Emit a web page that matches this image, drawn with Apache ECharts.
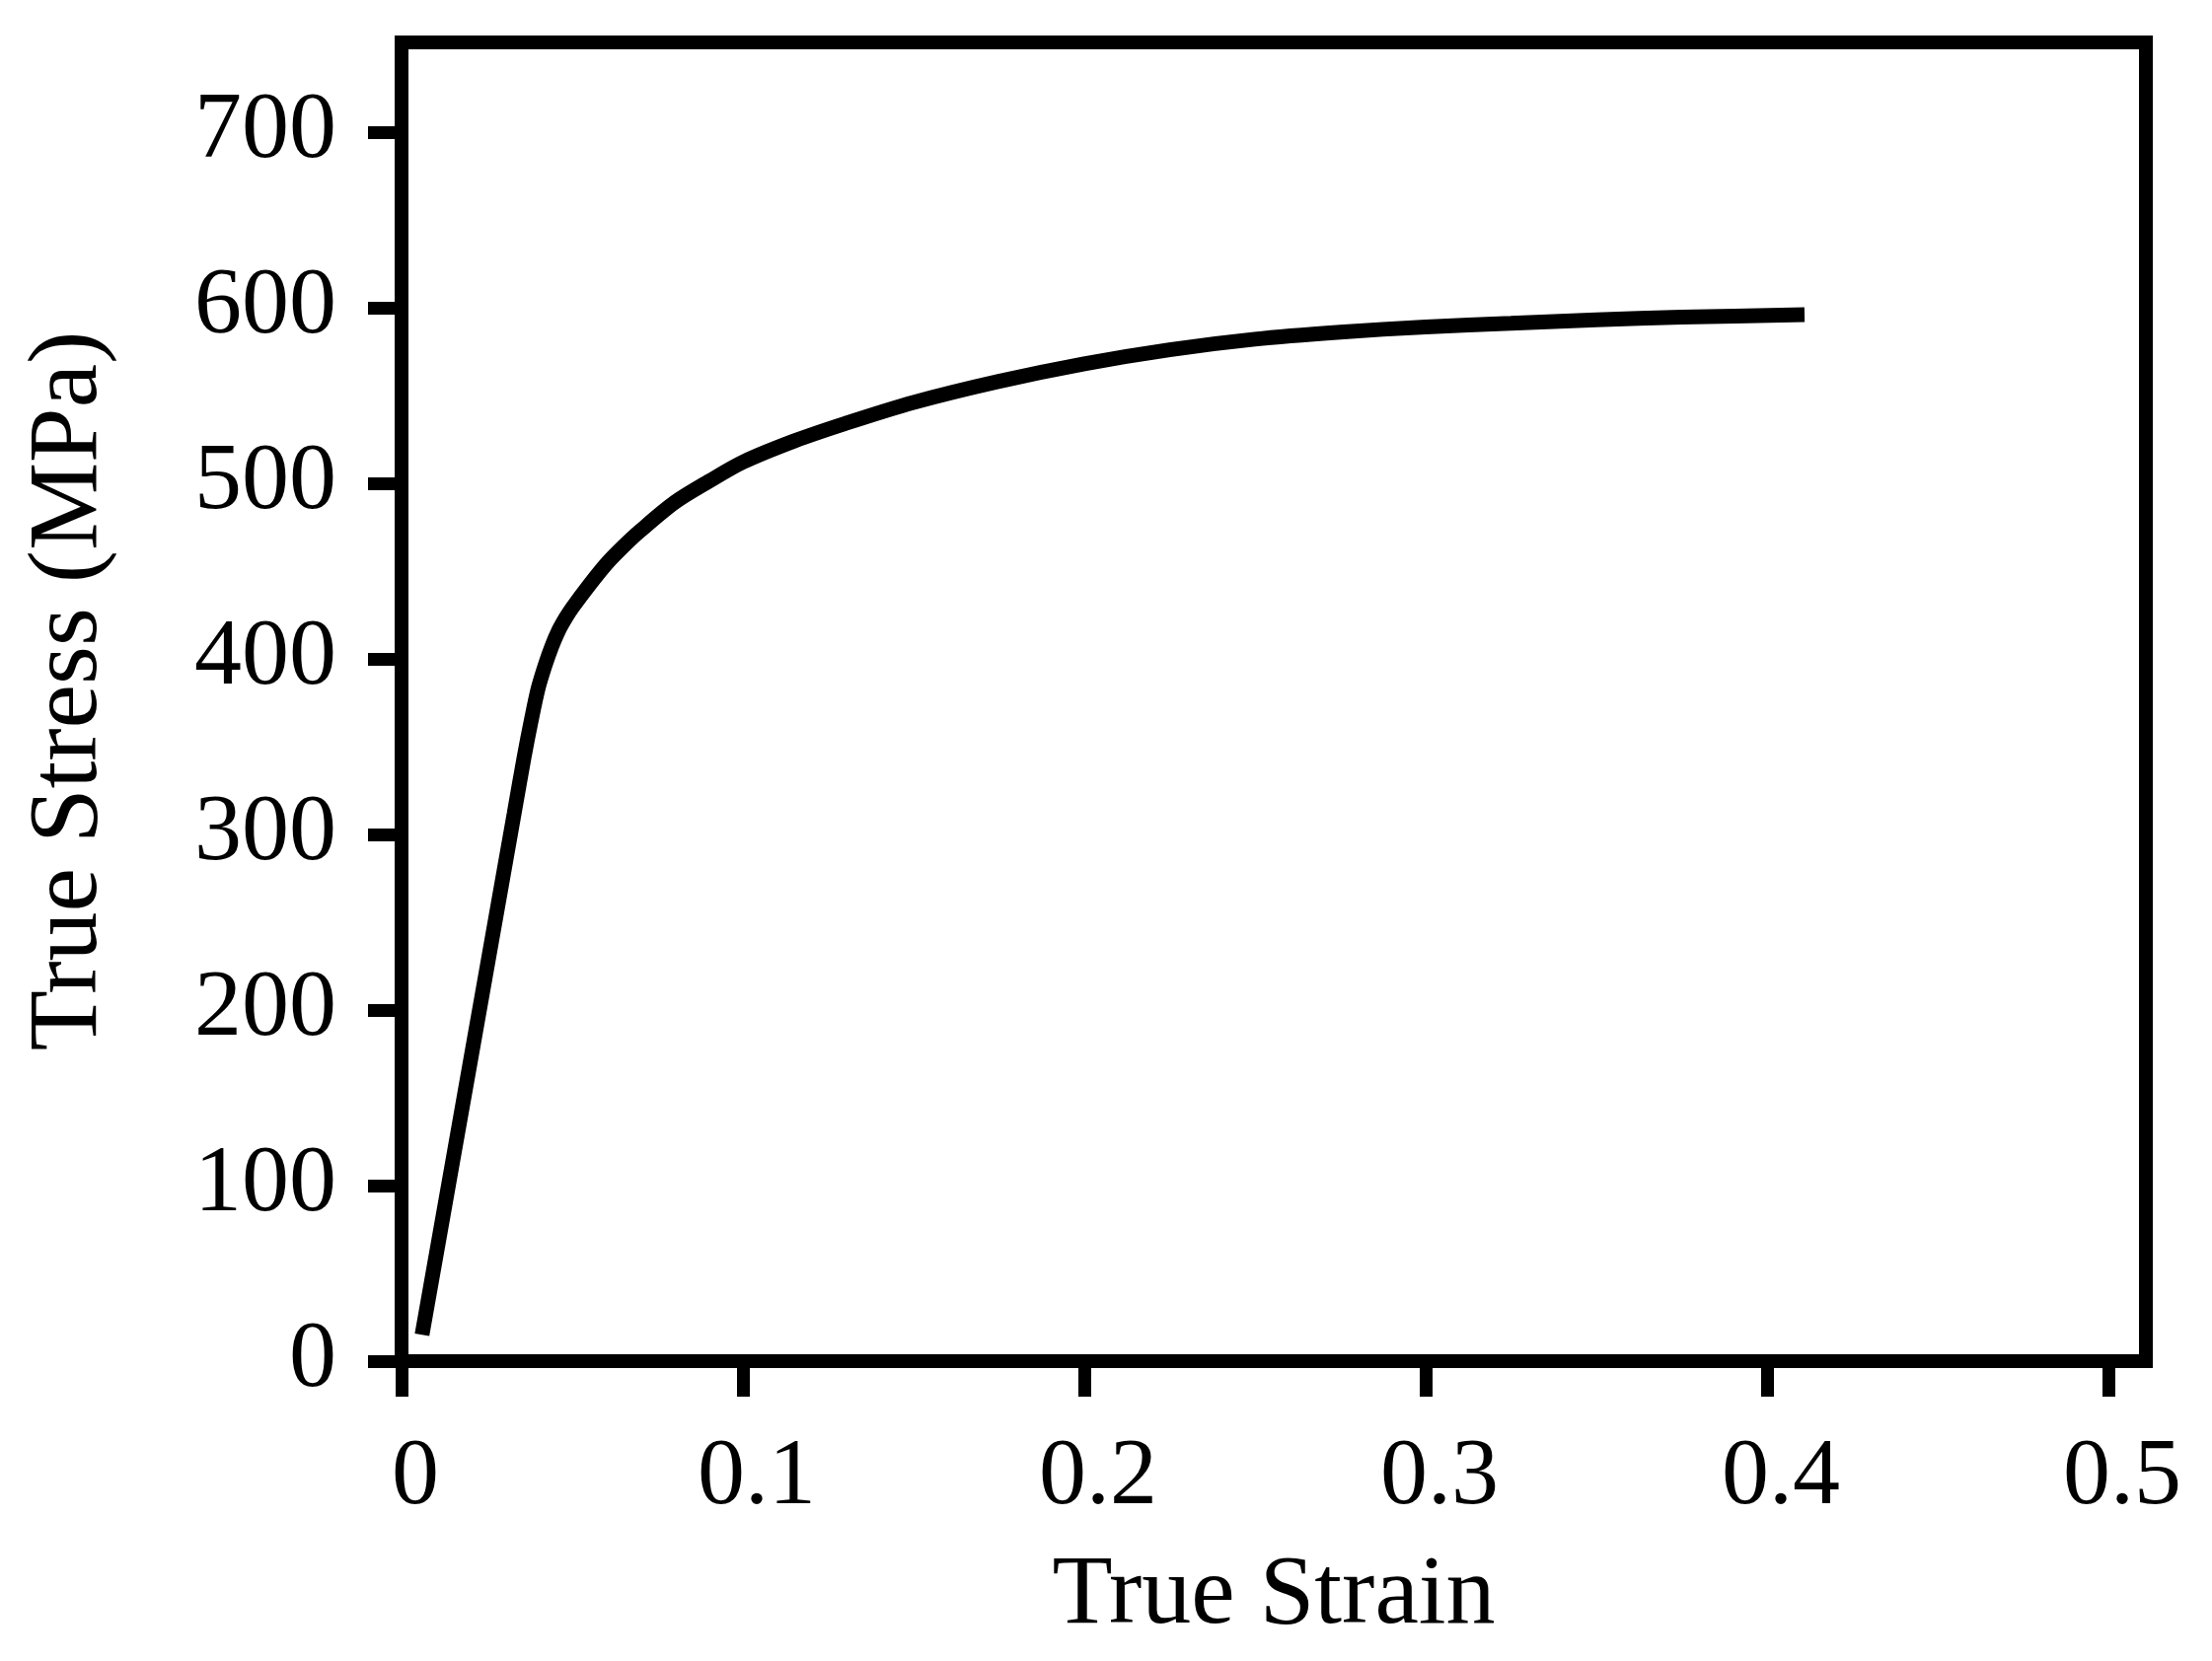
<!DOCTYPE html>
<html>
<head>
<meta charset="utf-8">
<script src="https://cdn.jsdelivr.net/npm/echarts@6/dist/echarts.min.js"></script>
<style>
html,body{margin:0;padding:0;background:#fff;}
#chart{width:2242px;height:1684px;}
</style>
</head>
<body>
<div id="chart"></div>
<script>
// Data
const strain = [0.006, 0.015, 0.025, 0.033, 0.036, 0.038, 0.040, 0.042, 0.044, 0.046, 0.048, 0.050, 0.055, 0.060, 0.065, 0.070, 0.080, 0.090, 0.100, 0.115, 0.130, 0.150, 0.175, 0.200, 0.225, 0.250, 0.275, 0.300, 0.325, 0.350, 0.375, 0.411];
const stress = [15, 114, 224, 312, 345, 365, 383, 396, 407, 416, 423, 429, 442, 454, 464, 473, 489, 501, 512, 524, 534, 546, 558, 568, 576, 582, 586, 589, 591, 593, 594.5, 596];
const xTicks = [0, 0.1, 0.2, 0.3, 0.4, 0.5];
const yTicks = [0, 100, 200, 300, 400, 500, 600, 700];
const xName = 'True Strain';
const yName = 'True Stress (MPa)';

const pts = strain.map((x, i) => [x, stress[i]]);
const font = 'Liberation Serif';

const chart = echarts.init(document.getElementById('chart'), null, {renderer: 'canvas'});
chart.setOption({
  animation: false,
  backgroundColor: '#fff',
  grid: {
    left: 407, right: 67, top: 43, bottom: 304,
    show: true, borderColor: '#000', borderWidth: 14, backgroundColor: 'transparent'
  },
  xAxis: {
    type: 'value', min: 0, max: 0.511,
    name: xName, nameLocation: 'middle', nameGap: 189,
    nameTextStyle: {fontFamily: font, fontSize: 100, color: '#000'},
    axisLine: {show: true, onZero: false, lineStyle: {color: '#000', width: 14}},
    axisTick: {show: true, length: 36, customValues: xTicks, lineStyle: {color: '#000', width: 13}},
    axisLabel: {customValues: xTicks, margin: 71, fontFamily: font, fontSize: 96, color: '#000',
      padding: [0, 0, 0, 28], formatter: v => String(v)},
    splitLine: {show: false}
  },
  yAxis: {
    type: 'value', min: 0, max: 751,
    name: yName, nameLocation: 'middle', nameGap: 286,
    nameTextStyle: {fontFamily: font, fontSize: 100, color: '#000', padding: [0, 0, 0, 22]},
    axisLine: {show: true, onZero: false, lineStyle: {color: '#000', width: 14}},
    axisTick: {show: true, length: 34, customValues: yTicks, lineStyle: {color: '#000', width: 13}},
    axisLabel: {customValues: yTicks, margin: 66, fontFamily: font, fontSize: 96, color: '#000'},
    splitLine: {show: false}
  },
  series: [{
    type: 'line',
    data: pts,
    showSymbol: false,
    smooth: 0.3,
    lineStyle: {color: '#000', width: 15, cap: 'butt'}
  }]
});
</script>
</body>
</html>
